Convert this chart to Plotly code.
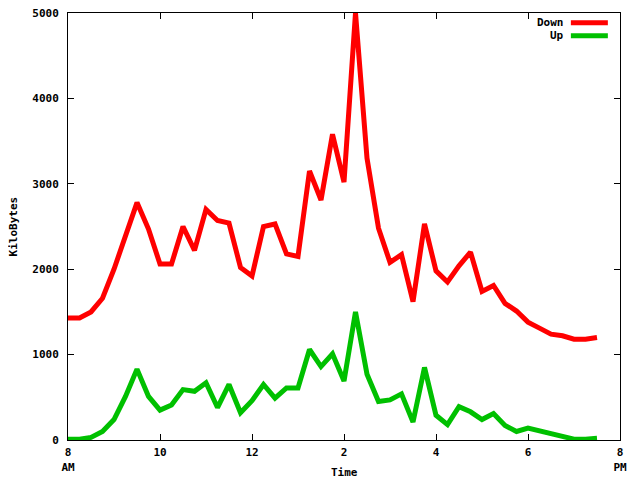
import plotly.graph_objects as go

# Time in hours (15-minute samples, 8:00 AM to 7:30 PM)
hours = [8 + i * 0.25 for i in range(47)]

down = [1430, 1430, 1500, 1660, 2000, 2400, 2780, 2470, 2060, 2060,
        2500, 2220, 2700, 2570, 2540, 2020, 1920, 2500, 2530, 2180,
        2150, 3150, 2810, 3580, 3020, 5000, 3300, 2480, 2080, 2170,
        1620, 2530, 1980, 1850, 2040, 2200, 1740, 1810, 1600, 1510,
        1380, 1310, 1240, 1220, 1180, 1180, 1200]

up = [10, 10, 30, 100, 240, 510, 830, 510, 350, 410,
      590, 570, 670, 380, 650, 320, 460, 650, 490, 610,
      610, 1060, 860, 1010, 690, 1500, 770, 450, 470, 540,
      210, 850, 290, 180, 390, 330, 240, 310, 170, 100,
      140, 110, 70, 50, 10, 10, 20]

x_tick_vals = [8, 10, 12, 14, 16, 18, 20]
x_tick_text = ["8<br>AM", "10", "12", "2", "4", "6", "8<br>PM"]
y_tick_vals = [0, 1000, 2000, 3000, 4000, 5000]

series_names = ["Down", "Up"]
series_colors = ["#ff0000", "#00c000"]

FONT = dict(family="DejaVu Sans Mono", size=11, color="black", weight="bold")

fig = go.Figure()
for name, vals, col in zip(series_names, [down, up], series_colors):
    fig.add_trace(go.Scatter(x=hours, y=vals, mode="lines", name=name,
                             line=dict(color=col, width=5), showlegend=False))

# gnuplot-style legend (text left of sample line)
for i, (name, col) in enumerate(zip(series_names, series_colors)):
    yy = 0.977 - i * 0.030
    fig.add_annotation(x=0.902, y=yy, xref="paper", yref="paper", text=name,
                       showarrow=False, xanchor="right", yanchor="middle",
                       font=FONT)
    fig.add_shape(type="line", xref="paper", yref="paper",
                  x0=0.911, x1=0.978, y0=yy, y1=yy,
                  line=dict(color=col, width=5))

fig.add_annotation(x=0.5, y=-0.075, xref="paper", yref="paper", text="Time",
                   showarrow=False, xanchor="center", yanchor="middle", font=FONT)
fig.add_annotation(x=-0.098, y=0.5, xref="paper", yref="paper", text="KiloBytes",
                   showarrow=False, textangle=-90, xanchor="center",
                   yanchor="middle", font=FONT)

fig.update_layout(
    width=640, height=480,
    margin=dict(l=60, r=28, t=5, b=48),
    plot_bgcolor="white", paper_bgcolor="white",
    font=FONT,
    xaxis=dict(range=[8, 20], tickvals=x_tick_vals, ticktext=x_tick_text,
               ticks="inside", ticklen=6, tickcolor="black", showline=True,
               linecolor="black", linewidth=1, mirror="ticks", showgrid=False,
               zeroline=False, automargin=False, ticklabelstandoff=2,
               ticklabeloverflow="allow"),
    yaxis=dict(range=[0, 5000], tickvals=y_tick_vals,
               ticks="inside", ticklen=6, tickcolor="black", showline=True,
               linecolor="black", linewidth=1, mirror="ticks", showgrid=False,
               zeroline=False, automargin=False, ticklabelstandoff=6,
               ticklabeloverflow="allow"),
)

fig.write_html("out.html")
